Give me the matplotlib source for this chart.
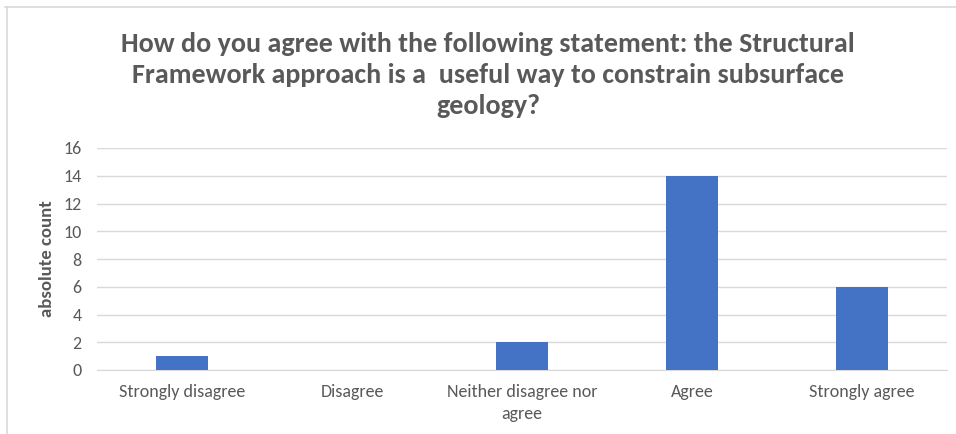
import matplotlib
matplotlib.use("Agg")
import matplotlib.pyplot as plt
from matplotlib import font_manager as fm
from matplotlib.lines import Line2D

categories = ["Strongly disagree", "Disagree", "Neither disagree nor\nagree", "Agree", "Strongly agree"]
counts = [1, 0, 2, 14, 6]
yticks = [0, 2, 4, 6, 8, 10, 12, 14, 16]
title = ("How do you agree with the following statement: the Structural\n"
         "Framework approach is a  useful way to constrain subsurface\n"
         "geology?")
ylabel = "absolute count"

avail = {f.name for f in fm.fontManager.ttflist}
font = "DejaVu Sans"
for cand in ["Carlito", "Liberation Sans Narrow", "Roboto Condensed", "Lato"]:
    if cand in avail:
        font = cand
        break
plt.rcParams['font.family'] = [font, 'DejaVu Sans']

W, H = 956, 434
fig = plt.figure(figsize=(W/100, H/100), dpi=100)
fig.patch.set_facecolor("white")

# plot area: x 97..947, y 148..370 (pixels from top)
ax = fig.add_axes([97/W, 1-370/H, 850/W, 222/H])
x = list(range(len(categories)))
ax.bar(x, counts, width=0.31, color="#4472C4", zorder=3)
ax.set_xlim(-0.5, len(categories)-0.5)
ax.set_ylim(0, 16)
ax.set_yticks(yticks)
ax.set_xticks(x)
ax.set_xticklabels(categories, fontsize=13, color="#595959", linespacing=1.5)
ax.tick_params(axis='y', labelsize=13, labelcolor="#595959", length=0, pad=11)
ax.tick_params(axis='x', length=0, pad=10)
ax.grid(axis='y', color="#D9D9D9", linewidth=1, zorder=0)
for s in ["top", "right", "left"]:
    ax.spines[s].set_visible(False)
ax.spines["bottom"].set_color("#D9D9D9")
ax.set_ylabel(ylabel, fontsize=13.5, fontweight="bold", color="#595959", labelpad=6)

fig.text(488/W, 1-75/H, title, ha="center", va="center", fontsize=20.2,
         fontweight="bold", color="#595959", linespacing=1.36)

# chart border lines (top and left)
fig.add_artist(Line2D([5/W, 1], [1-7/H, 1-7/H], color="#D9D9D9", linewidth=1.2))
fig.add_artist(Line2D([7/W, 7/W], [0, 1-7/H], color="#D9D9D9", linewidth=1.2))

fig.savefig("out.png", dpi=100, facecolor="white")
